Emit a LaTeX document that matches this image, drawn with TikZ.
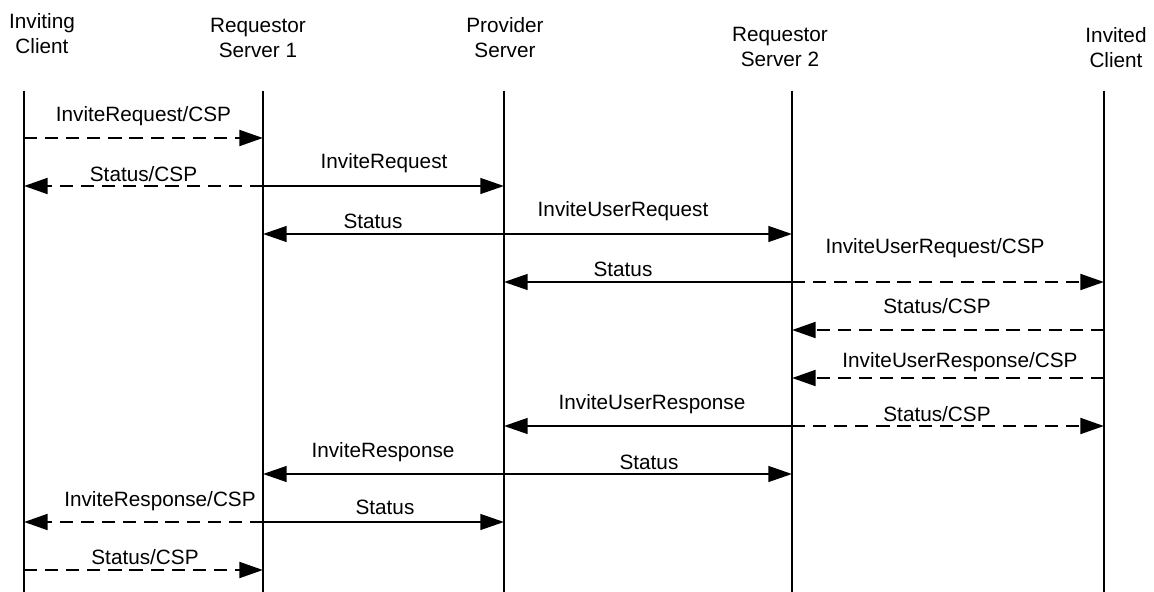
\documentclass[tikz,border=0pt]{standalone}
\usepackage{fontspec}
\setmainfont{Liberation Sans}
\usepackage{tikz}
\usetikzlibrary{arrows.meta}

\tikzset{
  head/.style={align=center, font=\fontsize{11.8}{14.2}\selectfont},
  lbl/.style={inner sep=0pt, text height=0.3cm, text depth=0cm, font=\fontsize{11.8}{14.2}\selectfont},
  life/.style={line width=1.1pt},
  smsg/.style={line width=1.1pt, -{Triangle[length=13.5pt, width=9pt]}},
  dmsg/.style={line width=1.5pt, dash pattern=on 7.5pt off 4.5pt, -{Triangle[length=13.5pt, width=9pt]}}
}

\begin{document}
\begin{tikzpicture}
\path[fill=white, use as bounding box] (0,0) rectangle (23.08,-11.84);

% parties
\node[head] (ic) at (0.84, -0.67) {Inviting\\Client};
\node[head] (rs1) at (5.16, -0.75) {Requestor\\Server 1};
\node[head] (ps) at (10.10, -0.75) {Provider\\Server};
\node[head] (rs2) at (15.60, -0.93) {Requestor\\Server 2};
\node[head] (vc) at (22.32, -0.96) {Invited\\Client};

% lifelines, one point per message row
\foreach \n/\x in {a/0.48, b/5.26, c/10.08, d/15.84, e/22.08} {
  \coordinate (\n top) at (\x, -1.82);
  \coordinate (\n bot) at (\x, -11.84);
  \draw[life] (\n top) -- (\n bot);
  \foreach \r in {0,...,9}
    \coordinate (\n\r) at (\x, {-2.76-0.96*\r});
}

% messages
\draw[dmsg] (a0) -- (b0);
\node[lbl] (l0) at (2.87, -2.28) {InviteRequest/CSP};

\draw[dmsg] (b1) -- (a1);
\node[lbl] (l1a) at (2.87, -3.48) {Status/CSP};
\draw[smsg] (b1) -- (c1);
\node[lbl] (l1b) at (7.68, -3.22) {InviteRequest};

\draw[smsg] (c2) -- (b2);
\node[lbl] (l2a) at (7.46, -4.42) {Status};
\draw[smsg] (c2) -- (d2);
\node[lbl] (l2b) at (12.46, -4.18) {InviteUserRequest};

\draw[smsg] (d3) -- (c3);
\node[lbl] (l3a) at (12.46, -5.38) {Status};
\draw[dmsg] (d3) -- (e3);
\node[lbl] (l3b) at (18.70, -4.92) {InviteUserRequest/CSP};

\draw[dmsg] (e4) -- (d4);
\node[lbl] (l4) at (18.74, -6.12) {Status/CSP};

\draw[dmsg] (e5) -- (d5);
\node[lbl] (l5) at (19.20, -7.20) {InviteUserResponse/CSP};

\draw[smsg] (d6) -- (c6);
\node[lbl] (l6a) at (13.04, -8.04) {InviteUserResponse};
\draw[dmsg] (d6) -- (e6);
\node[lbl] (l6b) at (18.74, -8.28) {Status/CSP};

\draw[smsg] (c7) -- (b7);
\node[lbl] (l7a) at (7.66, -9.00) {InviteResponse};
\draw[smsg] (c7) -- (d7);
\node[lbl] (l7b) at (12.98, -9.24) {Status};

\draw[dmsg] (b8) -- (a8);
\node[lbl] (l8a) at (3.20, -9.98) {InviteResponse/CSP};
\draw[smsg] (b8) -- (c8);
\node[lbl] (l8b) at (7.70, -10.14) {Status};

\draw[dmsg] (a9) -- (b9);
\node[lbl] (l9) at (2.90, -11.14) {Status/CSP};
\end{tikzpicture}
\end{document}
